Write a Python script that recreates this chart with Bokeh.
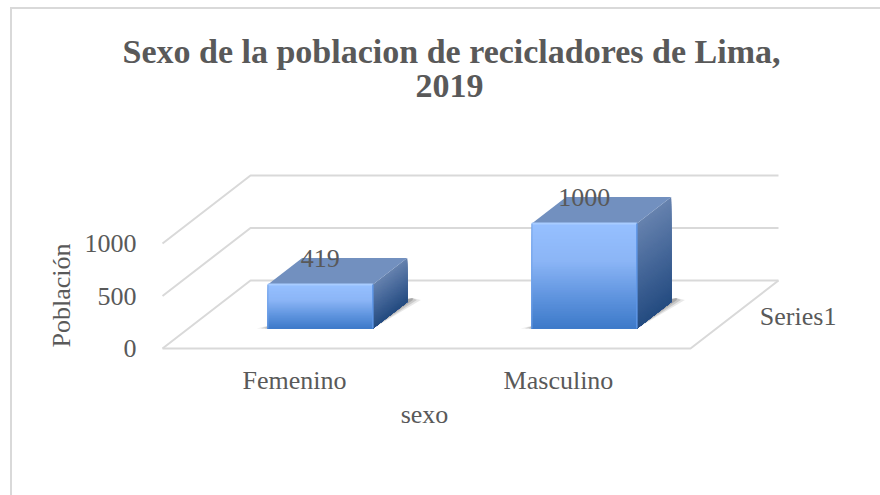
from bokeh.plotting import figure
from bokeh.models import Range1d, FixedTicker, Title, ColumnDataSource
from bokeh.embed import file_html
from bokeh.resources import INLINE
from bokeh.core.properties import value as fv

# ---- data ----
categories = ["Femenino", "Masculino"]
poblacion = [419, 1000]
y_ticks = [0, 500, 1000]
series_name = "Series1"
title_lines = ["Sexo de la poblacion de recicladores de Lima,", "2019"]
x_title = "sexo"
y_title = "Población"

# ---- layout / style ----
W, H = 880, 495
F_L, F_R, F_T, F_B = 0, 848, 103, 487     # frame edges inside the figure
X0, Y0 = 162, 348                         # floor's front-left corner, figure px
AXIS_X, AXIS_Y = 150, 352                 # where the axes are anchored, figure px
PX_CAT, PX_VAL = 264.0, 0.105             # px per category, px per unit of value
DEPTH_X, DEPTH_Y = 88.0, 68.0             # px of the whole depth
BAR_W = 105.0 / PX_CAT
D_FRONT, D_BACK = 0.294, 0.684
GRID = "#D9D9D9"
TXT = "#595959"
FONT = "Liberation Serif"
FS = "26px"
TITLE_FS = "34px"

dx = DEPTH_X / PX_CAT
dy = DEPTH_Y / PX_VAL


def proj(c, v, d):
    return c + d * dx, v + d * dy


def mix(stops, t):
    for (t0, c0), (t1, c1) in zip(stops, stops[1:]):
        if t <= t1:
            f = (t - t0) / (t1 - t0)
            return "#%02x%02x%02x" % tuple(round(a + (b - a) * f) for a, b in zip(c0, c1))
    return "#%02x%02x%02x" % stops[-1][1]


FRONT_STOPS = [(0, (0x96, 0xC0, 0xFF)), (0.35, (0x8B, 0xB5, 0xF6)), (0.7, (0x5E, 0x93, 0xDE)), (1, (0x3C, 0x79, 0xC8))]
SIDE_STOPS = [(0, (0x66, 0x82, 0xAE)), (0.5, (0x44, 0x66, 0x98)), (1, (0x24, 0x4B, 0x80))]

border_css = {
    "background-image": f"linear-gradient({GRID},{GRID}), linear-gradient({GRID},{GRID})",
    "background-size": "calc(100% - 10px) 2px, 2px calc(100% - 7px)",
    "background-position": "10px 7px, 10px 7px",
    "background-repeat": "no-repeat",
}

p = figure(width=W, height=H, output_backend="svg", toolbar_location=None,
           x_range=Range1d((F_L - X0) / PX_CAT, (F_R - X0) / PX_CAT),
           y_range=Range1d((Y0 - F_B) / PX_VAL, (Y0 - F_T) / PX_VAL),
           min_border_left=F_L, min_border_right=W - F_R,
           min_border_top=F_T, min_border_bottom=H - F_B,
           styles=border_css)
p.outline_line_color = None
p.grid.visible = False
p.border_fill_alpha = 0
p.background_fill_alpha = 0

# ---- axes ----
n_cat = len(categories)
ya = p.yaxis[0]
ya.ticker = FixedTicker(ticks=y_ticks)
ya.fixed_location = (AXIS_X - X0) / PX_CAT
ya.axis_line_color = None
ya.major_tick_line_color = None
ya.minor_tick_line_color = None
ya.major_label_standoff = 8
ya.major_label_text_font = FONT
ya.major_label_text_font_size = FS
ya.major_label_text_color = TXT
ya.axis_label = y_title
ya.axis_label_text_font = FONT
ya.axis_label_text_font_style = "normal"
ya.axis_label_text_font_size = FS
ya.axis_label_text_color = TXT
ya.axis_label_standoff = 6

xa = p.xaxis[0]
centers = [i + 0.5 for i in range(n_cat)]
xa.ticker = FixedTicker(ticks=centers)
xa.fixed_location = (Y0 - AXIS_Y) / PX_VAL
xa.major_label_overrides = {c: n for c, n in zip(centers, categories)}
xa.axis_line_color = None
xa.major_tick_line_color = None
xa.minor_tick_line_color = None
xa.major_label_standoff = 7
xa.major_label_text_font = FONT
xa.major_label_text_font_size = FS
xa.major_label_text_color = TXT
xa.axis_label = x_title
xa.axis_label_text_font = FONT
xa.axis_label_text_font_style = "normal"
xa.axis_label_text_font_size = FS
xa.axis_label_text_color = TXT
xa.axis_label_standoff = 2

# ---- floor and walls ----
for v in y_ticks:
    a = proj(0, v, 0)
    b = proj(0, v, 1)
    c = proj(n_cat, v, 1)
    p.line([a[0], b[0], c[0]], [a[1], b[1], c[1]], line_color=GRID, line_width=2)
a, b = proj(0, 0, 0), proj(n_cat, 0, 0)
e = proj(n_cat, 0, 1)
p.line([a[0], b[0], e[0]], [a[1], b[1], e[1]], line_color=GRID, line_width=2)

# ---- bars ----
N = 60
for c, val in zip(centers, poblacion):
    x0, x1 = c - BAR_W / 2, c + BAR_W / 2
    # soft shadow on the floor
    for grow, alpha in [(11, 0.12), (7, 0.18), (3, 0.25)]:
        g = grow / PX_CAT
        pts = [proj(x0 - g, 0, D_FRONT), proj(x1, 0, D_FRONT),
               proj(x1 + g, 0, D_BACK + 0.03), proj(x1, 0, D_BACK + 0.06), proj(x0, 0, D_FRONT + 0.06)]
        p.patch([q[0] for q in pts], [q[1] for q in pts], fill_color="#404040",
                fill_alpha=alpha, line_color=None)
    # side face, gradient painted from full height downward
    for i in range(N):
        t = i / N
        top = val * (1 - t)
        pts = [proj(x1, 0, D_FRONT), proj(x1, top, D_FRONT),
               proj(x1, top, D_BACK), proj(x1, 0, D_BACK)]
        p.patch([q[0] for q in pts], [q[1] for q in pts],
                fill_color=mix(SIDE_STOPS, t), line_color=None)
    # top face
    pts = [proj(x0, val, D_FRONT), proj(x1, val, D_FRONT),
           proj(x1, val, D_BACK), proj(x0, val, D_BACK)]
    p.patch([q[0] for q in pts], [q[1] for q in pts], fill_color="#7290BF", line_color=None)
    # front face
    for i in range(N):
        t = i / N
        top = val * (1 - t)
        l, b_ = proj(x0, 0, D_FRONT)
        r, t_ = proj(x1, top, D_FRONT)
        p.quad(left=l, right=r, bottom=b_, top=t_, fill_color=mix(FRONT_STOPS, t), line_color=None)
    # bevel highlights
    a, b = proj(x0, val, D_FRONT), proj(x1, val, D_FRONT)
    p.line([a[0], b[0]], [a[1], b[1]], line_color="#A8CCFF", line_width=2)
    a, b = proj(x1, val, D_FRONT), proj(x1, 0, D_FRONT)
    p.line([a[0], b[0]], [a[1], b[1]], line_color="#5E96E6", line_width=1.5)
    a, b = proj(x0, val, D_FRONT), proj(x0, 0, D_FRONT)
    p.line([a[0], b[0]], [a[1], b[1]], line_color="#6FA0E6", line_width=1)

# ---- value labels ----
lx, ly = [], []
for c, val in zip(centers, poblacion):
    q = proj(c, val, D_FRONT)
    lx.append(q[0])
    ly.append(q[1])
src = ColumnDataSource(dict(x=lx, y=ly, t=[str(v) for v in poblacion]))
p.text("x", "y", text="t", source=src, text_font=fv(FONT), text_font_size=FS,
       text_color=TXT, text_align="center", text_baseline="middle", y_offset=-26)

# ---- series label ----
q = proj(n_cat, 0, 0.47)
p.text([q[0]], [q[1]], text=[series_name], text_font=fv(FONT), text_font_size=FS,
       text_color=TXT, text_align="left", text_baseline="middle", x_offset=28)

# ---- title ----
p.add_layout(Title(text=title_lines[1], align="left", offset=415, standoff=10, vertical_align="top",
                   text_font=FONT, text_font_size=TITLE_FS, text_font_style="bold",
                   text_line_height=0.75, text_color=TXT), "above")
p.add_layout(Title(text=title_lines[0], align="left", offset=122, standoff=0,
                   text_font=FONT, text_font_size=TITLE_FS, text_font_style="bold",
                   text_line_height=0.75, text_color=TXT), "above")

open("out.html", "w").write(file_html(p, INLINE))
